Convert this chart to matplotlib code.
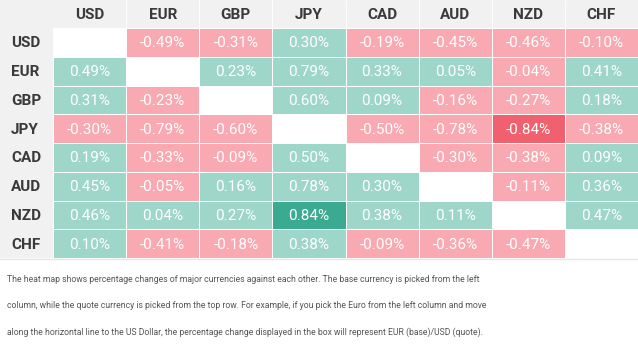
import numpy as np
import matplotlib.pyplot as plt
from matplotlib.colors import ListedColormap, BoundaryNorm

plt.rcParams['font.family'] = ['Roboto', 'DejaVu Sans']

currencies = ['USD', 'EUR', 'GBP', 'JPY', 'CAD', 'AUD', 'NZD', 'CHF']

# rows = base currency, columns = quote currency (percent change)
usd = [np.nan, -0.49, -0.31, 0.30, -0.19, -0.45, -0.46, -0.10]
eur = [0.49, np.nan, 0.23, 0.79, 0.33, 0.05, -0.04, 0.41]
gbp = [0.31, -0.23, np.nan, 0.60, 0.09, -0.16, -0.27, 0.18]
jpy = [-0.30, -0.79, -0.60, np.nan, -0.50, -0.78, -0.84, -0.38]
cad = [0.19, -0.33, -0.09, 0.50, np.nan, -0.30, -0.38, 0.09]
aud = [0.45, -0.05, 0.16, 0.78, 0.30, np.nan, -0.11, 0.36]
nzd = [0.46, 0.04, 0.27, 0.84, 0.38, 0.11, np.nan, 0.47]
chf = [0.10, -0.41, -0.18, 0.38, -0.09, -0.36, -0.47, np.nan]

caption_lines = [
    "The heat map shows percentage changes of major currencies against each other. The base currency is picked from the left",
    "column, while the quote currency is picked from the top row. For example, if you pick the Euro from the left column and move",
    "along the horizontal line to the US Dollar, the percentage change displayed in the box will represent EUR (base)/USD (quote).",
]

values = np.array([usd, eur, gbp, jpy, cad, aud, nzd, chf])
n = len(currencies)

# colour classes: strongest moves get a deeper shade
vmax = np.nanmax(np.abs(values))
cls = np.where(values > 0, 1, -1).astype(float)
cls[np.isclose(np.abs(values), vmax)] *= 2
cls = np.ma.masked_invalid(np.where(np.isnan(values), np.nan, cls))
cmap = ListedColormap(['#f0606e', '#f8a9b1', '#9fd6ca', '#3aaa90'])
cmap.set_bad('white')
norm = BoundaryNorm([-2.5, -1.5, 0, 1.5, 2.5], cmap.N)

W, H = 638, 352
left, top, bottom = 53, 28, 258
fig = plt.figure(figsize=(W / 100, H / 100), dpi=100)
ax = fig.add_axes([0, 0, 1, 1])
ax.set_xlim(0, W)
ax.set_ylim(H, 0)
ax.axis('off')

# grey header row and label column
ax.axhspan(0, top, color='#f1f1f1', lw=0)
ax.fill_between([0, left], top, bottom, color='#f1f1f1', lw=0)

xe = np.linspace(left, W, n + 1)
ye = np.linspace(top, bottom, n + 1)
ax.pcolormesh(xe, ye, cls, cmap=cmap, norm=norm, edgecolors='white', linewidth=0.6)
for x in xe[1:-1]:
    ax.plot([x, x], [0, top], color='white', lw=0.6)

xc = (xe[:-1] + xe[1:]) / 2
yc = (ye[:-1] + ye[1:]) / 2
for j, name in enumerate(currencies):
    ax.text(xc[j], top / 2 + 1, name, ha='center', va='center', fontsize=11,
            fontweight='bold', color='#3a3a3a')
for i, name in enumerate(currencies):
    ax.text(11, yc[i] + 1, name, ha='left', va='center', fontsize=11,
            fontweight='bold', color='#3a3a3a')
    for j in range(n):
        v = values[i, j]
        if np.isnan(v):
            continue
        ax.text(xc[j], yc[i] + 1, f'{v:.2f}%', ha='center', va='center',
                fontsize=11, fontweight='normal', color='white')

ax.plot([0, W], [bottom + 1, bottom + 1], color='#e6e6e6', lw=1)
for k, line in enumerate(caption_lines):
    ax.text(7, 280 + 26 * k, line, ha='left', va='center', fontsize=6.25,
            fontweight='normal', color='#555555')

fig.savefig('out.png', dpi=100)
